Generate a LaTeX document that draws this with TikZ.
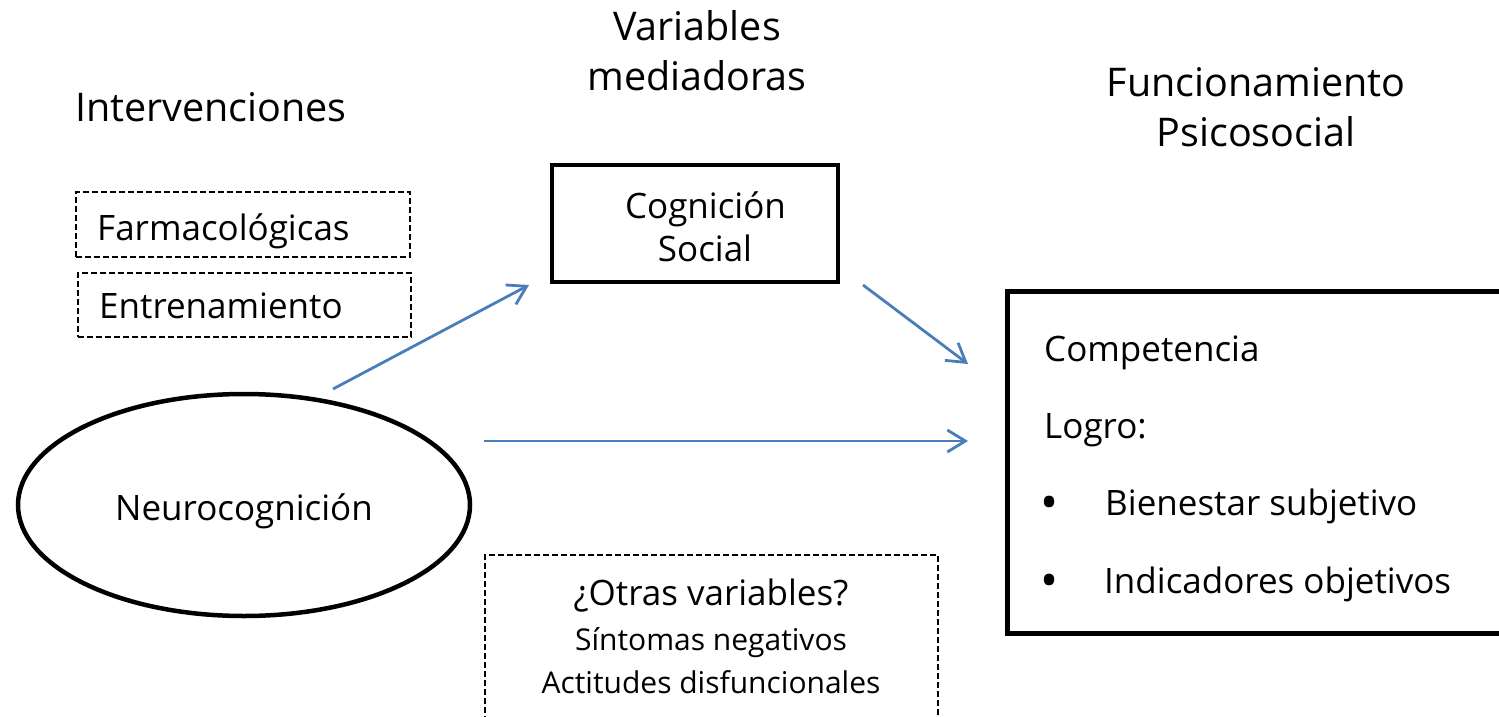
\documentclass[tikz,border=0pt]{standalone}
\usepackage{fontspec}
\setmainfont{Open Sans}
\usetikzlibrary{arrows.meta,shapes.geometric}
\definecolor{arrowblue}{RGB}{74,126,187}
\tikzset{
  titletext/.style={inner sep=0pt, font=\fontsize{39.5bp}{50bp}\selectfont},
  bodytext/.style={inner sep=0pt, font=\fontsize{35bp}{42bp}\selectfont},
  smalltext/.style={inner sep=0pt, font=\fontsize{30bp}{36bp}\selectfont},
  bullettext/.style={inner sep=0pt, font=\fontsize{48bp}{50bp}\selectfont},
  dashbox/.style={draw, line width=2bp, dash pattern=on 6bp off 3bp, inner sep=0pt},
  thickbox/.style={draw, line width=4.5bp, inner sep=0pt},
  flow/.style={draw=arrowblue, line width=2.8bp, -{Straight Barb[length=18bp,width=22bp,line width=2.8bp]}}
}
\begin{document}
\begin{tikzpicture}[x=1bp,y=-1bp]
\useasboundingbox (0,0) rectangle (1499,717);
\clip (0,0) rectangle (1499,717);

% titles
\node[titletext, anchor=base west] (tint) at (75,122) {Intervenciones};
\node[titletext, anchor=base] (tvar1) at (697,41) {Variables};
\node[titletext, anchor=base] (tvar2) at (697,91) {mediadoras};
\node[titletext, anchor=base] (tfun1) at (1256,97) {Funcionamiento};
\node[titletext, anchor=base] (tfun2) at (1256,147) {Psicosocial};

% dashed intervention boxes
\node[dashbox, minimum width=334bp, minimum height=65bp] (farmbox) at (243,224.5) {};
\node[bodytext, anchor=base west] (farm) at (97,240) {Farmacológicas};
\node[dashbox, minimum width=333bp, minimum height=64bp] (entrbox) at (244.5,305) {};
\node[bodytext, anchor=base west] (entr) at (99,318) {Entrenamiento};

% social cognition
\node[thickbox, minimum width=286bp, minimum height=117bp] (cogbox) at (695,223.5) {};
\node[bodytext, anchor=base] (cog1) at (705.5,218) {Cognición};
\node[bodytext, anchor=base] (cog2) at (705,261) {Social};

% neurocognition
\node[draw, ellipse, line width=4.5bp, minimum width=452bp, minimum height=222bp, inner sep=0pt] (neuro) at (244,505) {};
\node[bodytext, anchor=base] (neurot) at (244,520) {Neurocognición};

% outcome box
\node[thickbox, minimum width=520bp, minimum height=342bp] (outbox) at (1267.5,462.5) {};
\node[bodytext, anchor=base west] (comp) at (1044,361) {Competencia};
\node[bodytext, anchor=base west] (logro) at (1044,438) {Logro:};
\node[bullettext, anchor=base] (b1) at (1050,519) {•};
\node[bodytext, anchor=base west] (bien) at (1105,515) {Bienestar subjetivo};
\node[bullettext, anchor=base] (b2) at (1050,597) {•};
\node[bodytext, anchor=base west] (indic) at (1104,593) {Indicadores objetivos};

% other variables
\node[dashbox, minimum width=453bp, minimum height=220bp] (otrbox) at (711.5,665) {};
\node[bodytext, anchor=base] (otr) at (711,605) {¿Otras variables?};
\node[smalltext, anchor=base] (sint) at (711,650) {Síntomas negativos};
\node[smalltext, anchor=base] (acti) at (711,693) {Actitudes disfuncionales};

% arrows
\coordinate (a1s) at (333,389);
\coordinate (a1e) at (529,285);
\coordinate (a2s) at (863,285);
\coordinate (a2e) at (968,364);
\coordinate (a3s) at (484,441);
\coordinate (a3e) at (968,441);
\draw[flow] (a1s) -- (a1e);
\draw[flow] (a2s) -- (a2e);
\draw[flow] (a3s) -- (a3e);
\end{tikzpicture}
\end{document}
